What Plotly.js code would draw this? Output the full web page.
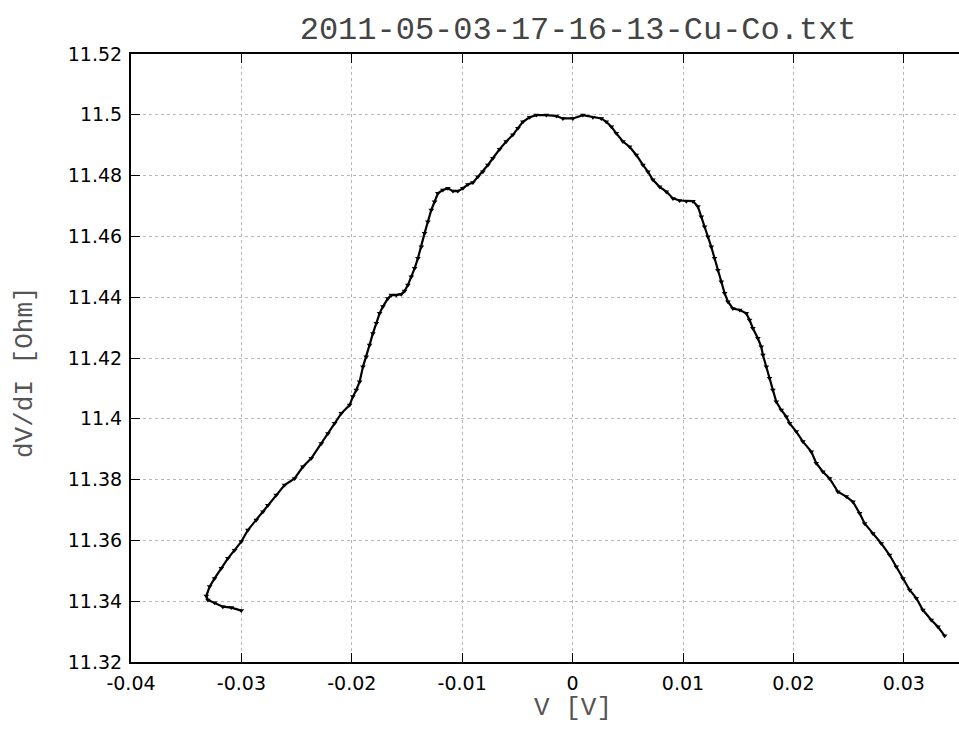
<!DOCTYPE html>
<html>
<head>
<meta charset="utf-8">
<script src="https://cdn.plot.ly/plotly-3.0.1.min.js"></script>
<style>html,body{margin:0;padding:0;background:#fff;}#chart{width:959px;height:730px;}</style>
</head>
<body>
<div id="chart"></div>
<script>
// Voltage V [V] (data order as drawn by the line)
const voltage = [
 -0.03001,-0.03091,-0.03168,-0.03243,-0.03303,-0.03318,-0.03288,-0.03243,-0.03182,-0.03122,
 -0.03062,-0.03001,-0.02941,-0.02865,-0.02805,-0.02760,-0.02684,-0.02609,-0.02518,-0.02443,
 -0.02367,-0.02276,-0.02216,-0.02156,-0.02095,-0.02020,-0.01990,-0.01959,-0.01929,-0.01899,
 -0.01869,-0.01839,-0.01809,-0.01778,-0.01748,-0.01718,-0.01673,-0.01642,-0.01597,-0.01552,
 -0.01522,-0.01492,-0.01461,-0.01431,-0.01401,-0.01370,-0.01341,-0.01311,-0.01280,-0.01250,
 -0.01220,-0.01175,-0.01130,-0.01084,-0.01039,-0.00994,-0.00948,-0.00903,-0.00858,-0.00813,
 -0.00767,-0.00722,-0.00661,-0.00601,-0.00541,-0.00495,-0.00450,-0.00389,-0.00329,-0.00238,
 -0.00148,-0.00088,0.00003,0.00093,0.00184,0.00260,0.00305,0.00351,0.00396,0.00456,
 0.00516,0.00577,0.00637,0.00682,0.00727,0.00788,0.00849,0.00909,0.00969,0.01030,
 0.01090,0.01135,0.01166,0.01196,0.01226,0.01256,0.01286,0.01316,0.01347,0.01377,
 0.01407,0.01452,0.01513,0.01573,0.01603,0.01633,0.01678,0.01709,0.01724,0.01755,
 0.01784,0.01814,0.01845,0.01890,0.01936,0.01966,0.02026,0.02086,0.02162,0.02207,
 0.02267,0.02328,0.02403,0.02479,0.02539,0.02600,0.02645,0.02720,0.02796,0.02871,
 0.02932,0.02992,0.03053,0.03113,0.03173,0.03249,0.03309,0.03370
];
// Differential resistance dV/dI [Ohm]
const dvdi = [
 11.3369,11.3379,11.3382,11.3395,11.3404,11.3417,11.3448,11.3475,11.3508,11.3541,
 11.3568,11.3596,11.3634,11.3667,11.3694,11.3716,11.3749,11.3782,11.3804,11.3842,
 11.3870,11.3919,11.3952,11.3985,11.4018,11.4045,11.4073,11.4095,11.4122,11.4171,
 11.4204,11.4243,11.4281,11.4314,11.4347,11.4369,11.4396,11.4407,11.4407,11.4410,
 11.4420,11.4440,11.4467,11.4495,11.4528,11.4566,11.4610,11.4648,11.4687,11.4714,
 11.4742,11.4753,11.4758,11.4749,11.4749,11.4758,11.4771,11.4777,11.4796,11.4813,
 11.4835,11.4857,11.4887,11.4912,11.4934,11.4956,11.4977,11.4992,11.4999,11.4999,
 11.4996,11.4988,11.4988,11.4999,11.4992,11.4988,11.4977,11.4961,11.4939,11.4912,
 11.4895,11.4868,11.4835,11.4813,11.4786,11.4763,11.4747,11.4725,11.4718,11.4716,
 11.4716,11.4698,11.4665,11.4632,11.4599,11.4566,11.4528,11.4489,11.4451,11.4413,
 11.4385,11.4363,11.4358,11.4347,11.4325,11.4298,11.4265,11.4237,11.4210,11.4171,
 11.4133,11.4095,11.4056,11.4029,11.4007,11.3985,11.3958,11.3925,11.3892,11.3854,
 11.3826,11.3804,11.3760,11.3744,11.3727,11.3689,11.3656,11.3623,11.3590,11.3552,
 11.3513,11.3475,11.3437,11.3410,11.3371,11.3338,11.3316,11.3286
];
const xTickVals = [-0.04,-0.03,-0.02,-0.01,0,0.01,0.02,0.03];
const xTickText = ["-0.04","-0.03","-0.02","-0.01","0","0.01","0.02","0.03"];
const yTickVals = [11.32,11.34,11.36,11.38,11.40,11.42,11.44,11.46,11.48,11.50,11.52];
const yTickText = ["11.32","11.34","11.36","11.38","11.4","11.42","11.44","11.46","11.48","11.5","11.52"];
const titleText = "2011-05-03-17-16-13-Cu-Co.txt";
const xLabel = "V [V]";
const yLabel = "dV/dI [Ohm]";

const trace = {
  x: voltage, y: dvdi, type: 'scatter', mode: 'lines+markers',
  line: {color: '#000', width: 2.2},
  marker: {color: '#000', size: 5, symbol: 'triangle-down'},
  hoverinfo: 'x+y', showlegend: false
};
const tickFont = {family: 'DejaVu Sans, sans-serif', size: 19, color: '#000'};
const labelFont = {family: 'Liberation Mono, monospace', size: 26, color: '#555'};
const layout = {
  width: 959, height: 730,
  margin: {l: 131, r: 0, t: 54, b: 68, pad: 0},
  paper_bgcolor: '#fff', plot_bgcolor: '#fff',
  showlegend: false,
  title: {text: titleText, font: {family: 'Liberation Mono, monospace', size: 32, color: '#444'},
          xref: 'paper', x: 0.54, xanchor: 'center', yref: 'container', y: 0.962, yanchor: 'middle'},
  xaxis: {
    range: [-0.04, 0.035], tickmode: 'array', tickvals: xTickVals, ticktext: xTickText,
    ticks: 'inside', ticklen: 9, tickwidth: 1, tickcolor: '#000',
    showline: true, linecolor: '#000', linewidth: 2, mirror: 'ticks',
    showgrid: true, gridcolor: '#b8b8b8', gridwidth: 1, griddash: 'dot',
    zeroline: false, tickfont: tickFont, ticklabelstandoff: 3
  },
  yaxis: {
    range: [11.32, 11.52], tickmode: 'array', tickvals: yTickVals, ticktext: yTickText,
    ticks: 'inside', ticklen: 9, tickwidth: 1, tickcolor: '#000',
    showline: true, linecolor: '#000', linewidth: 2, mirror: false,
    showgrid: true, gridcolor: '#b8b8b8', gridwidth: 1, griddash: 'dot',
    zeroline: false, tickfont: tickFont, ticklabelstandoff: 3
  },
  annotations: [
    {text: xLabel, xref: 'paper', yref: 'paper', x: 0.5338, y: -0.076, xanchor: 'center', yanchor: 'middle',
     showarrow: false, font: labelFont},
    {text: yLabel, xref: 'paper', yref: 'paper', x: -0.128, y: 0.477, xanchor: 'center', yanchor: 'middle',
     textangle: -90, showarrow: false, font: labelFont}
  ]
};
Plotly.newPlot('chart', [trace], layout, {displayModeBar: false, staticPlot: true});
</script>
</body>
</html>
